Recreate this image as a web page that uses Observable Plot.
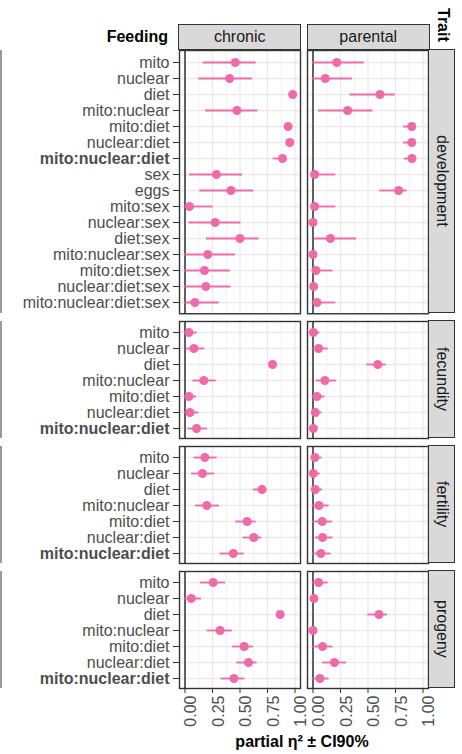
<!DOCTYPE html>
<html><head><meta charset="utf-8">
<script src="https://cdn.jsdelivr.net/npm/d3@7"></script>
<script src="https://cdn.jsdelivr.net/npm/@observablehq/plot@0.6"></script>
<style>
body{margin:0;background:#fff;font-family:"Liberation Sans",Arial,Helvetica,sans-serif;}
#chart{position:relative;width:462px;height:754px;overflow:hidden;background:#fff;}
.lbl{position:absolute;font-size:16px;line-height:20px;color:#000;white-space:nowrap;}
.strip{position:absolute;background:#D9D9D9;border:1.4px solid #333;box-sizing:border-box;color:#1A1A1A;font-size:16px;display:flex;align-items:center;justify-content:center;white-space:nowrap;}
.vtext{writing-mode:vertical-rl;}
.deco{position:absolute;left:0;width:1.5px;background:#9a9a9a;}
</style></head><body><div id="chart"></div><script>
// ---- data ----
const feedings = ["chronic", "parental"];
const traits = ["development", "fecundity", "fertility", "progeny"];
const devTerms = ["mito","nuclear","diet","mito:nuclear","mito:diet","nuclear:diet","mito:nuclear:diet","sex","eggs","mito:sex","nuclear:sex","diet:sex","mito:nuclear:sex","mito:diet:sex","nuclear:diet:sex","mito:nuclear:diet:sex"];
const repTerms = ["mito","nuclear","diet","mito:nuclear","mito:diet","nuclear:diet","mito:nuclear:diet"];
const boldTerm = "mito:nuclear:diet";
const majorTicks = [0, 0.25, 0.5, 0.75, 1];
const minorTicks = [0.125, 0.375, 0.625, 0.875];
// [estimate, lower CI90, upper CI90]
const devChronic = [[0.457,0.166,0.646],[0.406,0.126,0.613],[0.979,0.965,0.99],[0.472,0.186,0.661],[0.937,0.92,0.955],[0.952,0.935,0.965],[0.886,0.802,0.93],[0.286,0.042,0.523],[0.418,0.135,0.625],[0.040,0,0.256],[0.274,0.036,0.508],[0.499,0.195,0.673],[0.207,0,0.457],[0.177,0,0.412],[0.189,0,0.418],[0.090,0,0.310]];
const devParental = [[0.216,0,0.465],[0.111,0,0.357],[0.609,0.336,0.748],[0.315,0.051,0.543],[0.898,0.823,0.93],[0.898,0.823,0.93],[0.90,0.83,0.93],[0.015,0,0.207],[0.778,0.607,0.856],[0.015,0,0.207],[0.0,0,0.03],[0.159,0.012,0.396],[0.0,0,0.03],[0.027,0,0.183],[0.006,0,0.045],[0.036,0,0.207]];
const fecChronic = [[0.036,0,0.111],[0.081,0.008,0.180],[0.796,0.775,0.815],[0.171,0.072,0.283],[0.036,0,0.105],[0.045,0,0.126],[0.105,0.027,0.204]];
const fecParental = [[0.003,0,0.063],[0.051,0,0.138],[0.588,0.489,0.667],[0.108,0.027,0.216],[0.036,0,0.108],[0.021,0,0.081],[0.003,0,0.02]];
const fertChronic = [[0.18,0.081,0.292],[0.159,0.06,0.27],[0.70,0.622,0.751],[0.198,0.094,0.313],[0.565,0.463,0.646],[0.625,0.529,0.697],[0.439,0.319,0.538]];
const fertParental = [[0.018,0,0.081],[0.003,0,0.066],[0.021,0,0.087],[0.054,0,0.147],[0.084,0,0.177],[0.087,0.021,0.183],[0.072,0,0.165]];
const progChronic = [[0.256,0.141,0.369],[0.057,0,0.15],[0.865,0.85,0.88],[0.319,0.201,0.43],[0.538,0.43,0.622],[0.577,0.472,0.655],[0.445,0.328,0.544]];
const progParental = [[0.051,0,0.138],[0.009,0,0.03],[0.60,0.498,0.678],[0.0,0,0.02],[0.087,0,0.183],[0.195,0.087,0.306],[0.063,0,0.147]];

// ---- layout & style ----
const W = 462, L = 179, R = 429, G = 7, STEP = 16.25, PAD = 0.6;
const band = (R - L - G) / 2;
const pink = "#EF6AA8";
const font = '"Liberation Sans", Arial, Helvetica, sans-serif';
const rowTops = [49.5, 320.75, 445.75, 570.75];
const rows = [
  {trait: traits[0], terms: devTerms, chronic: devChronic, parental: devParental},
  {trait: traits[1], terms: repTerms, chronic: fecChronic, parental: fecParental},
  {trait: traits[2], terms: repTerms, chronic: fertChronic, parental: fertParental},
  {trait: traits[3], terms: repTerms, chronic: progChronic, parental: progParental}
];
const chart = document.getElementById("chart");
function addDiv(cls, text, css) {
  const d = document.createElement("div");
  d.className = cls;
  if (text) d.textContent = text;
  Object.assign(d.style, css);
  chart.appendChild(d);
  return d;
}

rows.forEach((row, i) => {
  const last = i === rows.length - 1;
  const h = STEP * (row.terms.length - 1 + 2 * PAD);
  const top = rowTops[i];
  const mt = 3, mb = last ? 754 - (top + h) : 3;
  const data = [];
  feedings.forEach(f => row[f].forEach((v, j) => data.push({feeding: f, term: row.terms[j], est: v[0], lo: v[1], hi: v[2]})));
  const normal = row.terms.filter(t => t !== boldTerm);
  const marks = [
    Plot.gridX(minorTicks, {stroke: "#EBEBEB", strokeOpacity: 1, strokeWidth: 0.8}),
    Plot.gridX(majorTicks, {stroke: "#EBEBEB", strokeOpacity: 1, strokeWidth: 1.4}),
    Plot.gridY(row.terms, {stroke: "#EBEBEB", strokeOpacity: 1, strokeWidth: 1.4}),
    Plot.ruleX([0], {stroke: "#000", strokeWidth: 1.2}),
    Plot.ruleY(data, {fx: "feeding", y: "term", x1: "lo", x2: "hi", stroke: pink, strokeWidth: 1.8}),
    Plot.dot(data, {fx: "feeding", x: "est", y: "term", r: 4.5, fill: pink}),
    Plot.frame({stroke: "#333", strokeWidth: 1.4}),
    Plot.axisY(normal, {tickSize: 6, tickPadding: 4, fontSize: 16, fill: "#4D4D4D", stroke: "#333", label: null}),
    Plot.axisY([boldTerm], {tickSize: 6, tickPadding: 4, fontSize: 16, fontWeight: "bold", fill: "#4D4D4D", stroke: "#333", label: null})
  ];
  if (last) {
    marks.push(Plot.axisX(majorTicks, {fill: "none", tickSize: 5, stroke: "#333", label: null}));
    marks.push(Plot.text(majorTicks, {x: d => d, text: d => d.toFixed(2), frameAnchor: "bottom", rotate: -90, textAnchor: "end", lineAnchor: "top", dy: 7, fontSize: 16, fill: "#4D4D4D"}));
  }
  const svg = Plot.plot({
    width: W, height: mt + h + mb,
    marginLeft: L, marginRight: W - R, marginTop: mt, marginBottom: mb,
    style: {fontFamily: font, fontSize: "16px", overflow: "visible", background: "transparent"},
    fx: {domain: feedings, paddingInner: G / ((R - L + G) / 2), paddingOuter: 0, axis: null, label: null},
    x: {domain: [-0.05, 1.05], axis: last ? undefined : null, label: null},
    y: {type: "point", domain: row.terms, padding: PAD, label: null},
    marks
  });
  svg.style.position = "absolute";
  svg.style.left = "0px";
  svg.style.top = (top - mt) + "px";
  chart.appendChild(svg);
  // right strip
  addDiv("strip", null, {left: (R - 0.7) + "px", top: (top - 0.7) + "px", width: (455 - R + 0.7) + "px", height: (h + 1.4) + "px"})
    .appendChild(Object.assign(document.createElement("span"), {className: "vtext", textContent: row.trait}));
  // decorative edge line on left
  addDiv("deco", null, {top: top + "px", height: h + "px"});
});

// top strips
feedings.forEach((f, k) => {
  const x0 = L + k * (band + G);
  addDiv("strip", f, {left: (x0 - 0.7) + "px", top: "23.5px", width: (band + 1.4) + "px", height: (49.5 - 23.5 + 0.7) + "px"});
});
addDiv("lbl", "Feeding", {right: (W - 168) + "px", top: "26.5px", fontWeight: "bold"});
addDiv("lbl vtext", "Trait", {left: "433px", top: "8px", fontWeight: "bold"});
addDiv("lbl", "partial η² ± CI90%", {left: "152px", width: "300px", textAlign: "center", top: "732px", fontWeight: "bold"});
</script></body></html>
